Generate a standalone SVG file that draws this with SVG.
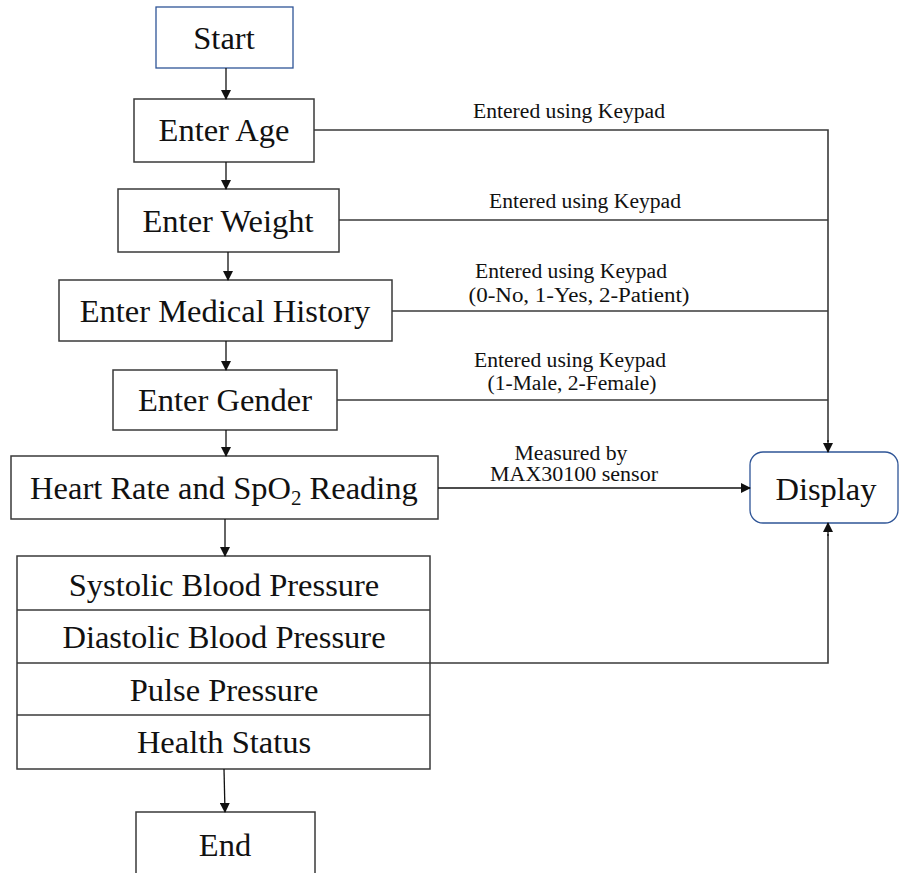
<svg xmlns="http://www.w3.org/2000/svg" width="900" height="873" viewBox="0 0 900 873">
  <style>
    .box { fill: #ffffff; stroke: #3a3a3a; stroke-width: 1.5; }
    .term { fill: #ffffff; stroke: #2f5597; stroke-width: 1.3; }
    .t { font-family: "Liberation Serif", "Times New Roman", serif; font-size: 32.5px; fill: #111; text-anchor: middle; }
    .lbl { font-family: "Liberation Serif", "Times New Roman", serif; font-size: 20px; fill: #111; text-anchor: middle; }
    .ln { fill: none; stroke: #3a3a3a; stroke-width: 1.6; }
    .arr { fill: none; stroke: #111; stroke-width: 1.3; marker-end: url(#ah); }
  </style>
  <defs>
    <marker id="ah" markerWidth="10" markerHeight="10" refX="9" refY="5" orient="auto" markerUnits="userSpaceOnUse">
      <path d="M0,0 L10,5 L0,10 Z" fill="#111"/>
    </marker>
  </defs>
  <rect width="900" height="873" fill="#ffffff"/>

  <g id="start">
    <rect class="term" x="156" y="7" width="137" height="61"/>
    <text class="t" x="224" y="49">Start</text>
  </g>
  <g id="enter-age">
    <rect class="box" x="134" y="99" width="180" height="63"/>
    <text class="t" x="224" y="141">Enter Age</text>
  </g>
  <g id="enter-weight">
    <rect class="box" x="118" y="189" width="221" height="63"/>
    <text class="t" x="228" y="232">Enter Weight</text>
  </g>
  <g id="enter-history">
    <rect class="box" x="59" y="280" width="333" height="61"/>
    <text class="t" x="225" y="322">Enter Medical History</text>
  </g>
  <g id="enter-gender">
    <rect class="box" x="113" y="370" width="224" height="60"/>
    <text class="t" x="225" y="411">Enter Gender</text>
  </g>
  <g id="reading">
    <rect class="box" x="11" y="456" width="427" height="63"/>
    <text class="t" x="224" y="499">Heart Rate and SpO<tspan font-size="21" dy="6">2</tspan><tspan dy="-6"> Reading</tspan></text>
  </g>
  <g id="results">
    <rect class="box" x="17" y="556" width="413" height="213"/>
    <line class="ln" x1="17" y1="610" x2="430" y2="610"/>
    <line class="ln" x1="17" y1="663" x2="430" y2="663"/>
    <line class="ln" x1="17" y1="715" x2="430" y2="715"/>
    <text class="t" x="224" y="596">Systolic Blood Pressure</text>
    <text class="t" x="224" y="648">Diastolic Blood Pressure</text>
    <text class="t" x="224" y="701">Pulse Pressure</text>
    <text class="t" x="224" y="753">Health Status</text>
  </g>
  <g id="end">
    <rect class="box" x="136" y="812" width="179" height="70"/>
    <text class="t" x="225" y="856">End</text>
  </g>
  <g id="display">
    <rect class="term" x="750" y="452" width="148" height="71" rx="13"/>
    <text class="t" x="826" y="500">Display</text>
  </g>

  <g id="connectors">
    <!-- main flow -->
    <line class="arr" x1="226" y1="68" x2="226" y2="99"/>
    <line class="arr" x1="226" y1="162" x2="226" y2="189"/>
    <line class="arr" x1="228" y1="252" x2="228" y2="280"/>
    <line class="arr" x1="226" y1="341" x2="226" y2="370"/>
    <line class="arr" x1="226" y1="430" x2="226" y2="456"/>
    <line class="arr" x1="225" y1="519" x2="225" y2="556"/>
    <line class="arr" x1="224" y1="769" x2="225" y2="812"/>
    <!-- inputs to display -->
    <path class="ln" d="M314,130 H828 V442"/>
    <line class="arr" x1="828" y1="440" x2="828" y2="452"/>
    <line class="ln" x1="339" y1="220" x2="828" y2="220"/>
    <line class="ln" x1="392" y1="311" x2="828" y2="311"/>
    <line class="ln" x1="337" y1="400" x2="828" y2="400"/>
    <line class="arr" x1="438" y1="488" x2="750" y2="488"/>
    <path class="ln" d="M430,663 H828 V534"/>
    <line class="arr" x1="828" y1="536" x2="828" y2="523"/>
    <!-- labels -->
    <text class="lbl" x="569" y="118" textLength="192" lengthAdjust="spacingAndGlyphs">Entered using Keypad</text>
    <text class="lbl" x="585" y="208" textLength="192" lengthAdjust="spacingAndGlyphs">Entered using Keypad</text>
    <text class="lbl" x="571" y="278" textLength="192" lengthAdjust="spacingAndGlyphs">Entered using Keypad</text>
    <text class="lbl" x="579" y="302" textLength="221" lengthAdjust="spacingAndGlyphs">(0-No, 1-Yes, 2-Patient)</text>
    <text class="lbl" x="570" y="367" textLength="192" lengthAdjust="spacingAndGlyphs">Entered using Keypad</text>
    <text class="lbl" x="572" y="390" textLength="169" lengthAdjust="spacingAndGlyphs">(1-Male, 2-Female)</text>
    <text class="lbl" x="571" y="460" textLength="113" lengthAdjust="spacingAndGlyphs">Measured by</text>
    <text class="lbl" x="574" y="481" textLength="168" lengthAdjust="spacingAndGlyphs">MAX30100 sensor</text>
  </g>
</svg>
